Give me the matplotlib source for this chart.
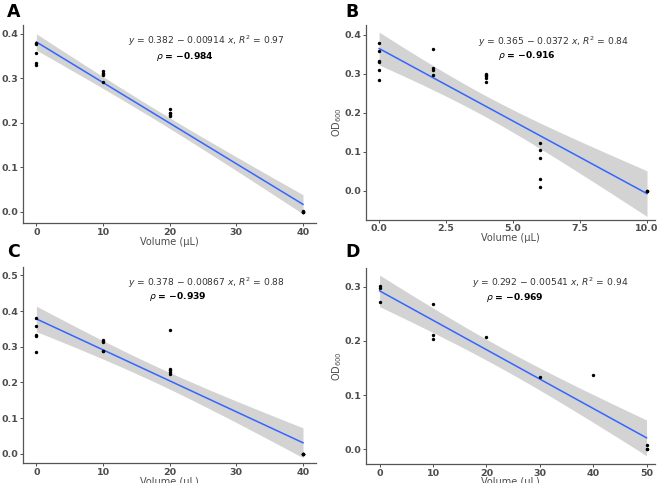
import numpy as np
import matplotlib
matplotlib.use('Agg')
import matplotlib.pyplot as plt

# panel A (replicates at 40 sit on top of each other)
a_x = [0, 0, 0, 0, 0, 10, 10, 10, 10, 10, 20, 20, 20, 20, 20, 40, 40, 40, 40, 40]
a_y = [0.380, 0.378, 0.358, 0.334, 0.330, 0.317, 0.313, 0.310, 0.308, 0.293,
       0.232, 0.222, 0.221, 0.218, 0.215, 0.0, 0.001, 0.0, 0.0, 0.0]
a_fit = (0.382, -0.00914)
a_eq = r'$y$ = 0.382 − 0.00914 $x$, $R^2$ = 0.97'
a_rho = r'$\rho$ = −0.984'

# panel B
b_x = [0, 0, 0, 0, 0, 0, 2, 2, 2, 2, 4, 4, 4, 4, 4, 6, 6, 6, 6, 6, 10, 10, 10]
b_y = [0.380, 0.359, 0.333, 0.330, 0.310, 0.285, 0.365, 0.315, 0.309, 0.297,
       0.300, 0.297, 0.295, 0.289, 0.279, 0.122, 0.106, 0.084, 0.031, 0.011,
       0.0, 0.001, 0.0]
b_fit = (0.365, -0.0372)
b_eq = r'$y$ = 0.365 − 0.0372 $x$, $R^2$ = 0.84'
b_rho = r'$\rho$ = −0.916'

# panel C
c_x = [0, 0, 0, 0, 0, 10, 10, 10, 10, 10, 20, 20, 20, 20, 20, 40, 40, 40, 40, 40]
c_y = [0.380, 0.358, 0.332, 0.329, 0.285, 0.318, 0.315, 0.312, 0.287, 0.287,
       0.346, 0.238, 0.234, 0.229, 0.224, 0.0, 0.0, 0.0, 0.0, 0.0]
c_fit = (0.378, -0.00867)
c_eq = r'$y$ = 0.378 − 0.00867 $x$, $R^2$ = 0.88'
c_rho = r'$\rho$ = −0.939'

# panel D
d_x = [0, 0, 0, 10, 10, 10, 20, 30, 40, 50, 50, 50]
d_y = [0.301, 0.298, 0.272, 0.267, 0.211, 0.203, 0.207, 0.134, 0.138, 0.008, 0.001, 0.0]
d_fit = (0.292, -0.00541)
d_eq = r'$y$ = 0.292 − 0.00541 $x$, $R^2$ = 0.94'
d_rho = r'$\rho$ = −0.969'

panels = [
    ('A', a_x, a_y, a_fit, a_eq, a_rho, [0.035, 0.538, 0.445, 0.410], (-2, 42), (-0.026, 0.42),
     [0, 10, 20, 30, 40], [0.0, 0.1, 0.2, 0.3, 0.4], '{:.0f}', (0.358, 0.919), (0.454, 0.843),
     -0.072, (0.011, 0.965)),
    ('B', b_x, b_y, b_fit, b_eq, b_rho, [0.555, 0.545, 0.439, 0.403], (-0.5, 10.3), (-0.074, 0.425),
     [0, 2.5, 5, 7.5, 10], [0.0, 0.1, 0.2, 0.3, 0.4], '{:.1f}', (0.388, 0.916), (0.457, 0.843),
     -0.075, (0.524, 0.965)),
    ('C', c_x, c_y, c_fit, c_eq, c_rho, [0.035, 0.041, 0.445, 0.406], (-2, 42), (-0.026, 0.523),
     [0, 10, 20, 30, 40], [0.0, 0.1, 0.2, 0.3, 0.4, 0.5], '{:.0f}', (0.358, 0.918), (0.430, 0.852),
     -0.072, (0.011, 0.468)),
    ('D', d_x, d_y, d_fit, d_eq, d_rho, [0.555, 0.039, 0.439, 0.406], (-2.6, 51.6), (-0.027, 0.334),
     [0, 10, 20, 30, 40, 50], [0.0, 0.1, 0.2, 0.3], '{:.0f}', (0.367, 0.923), (0.415, 0.852),
     -0.075, (0.524, 0.468)),
]

# two-sided 95% t quantiles by degrees of freedom
t_vals = {9: 2.262, 10: 2.228, 11: 2.201, 12: 2.179, 13: 2.160, 14: 2.145, 15: 2.131,
          16: 2.120, 17: 2.110, 18: 2.101, 19: 2.093, 20: 2.086, 21: 2.080, 22: 2.074}

fig = plt.figure(figsize=(6.59, 4.83), dpi=100)
grey = '#4D4D4D'

for letter, xs, ys, fit, eq, rho, rect, xl, yl, xt, yt, xfmt, p1, p2, ylx, lpos in panels:
    ax = fig.add_axes(rect)
    x = np.array(xs, dtype=float)
    y = np.array(ys, dtype=float)
    b0, b1 = fit
    n = len(x)
    resid = y - (b0 + b1 * x)
    s = np.sqrt(np.sum(resid ** 2) / (n - 2))
    xx = np.linspace(x.min(), x.max(), 80)
    yy = b0 + b1 * xx
    se = s * np.sqrt(1 / n + (xx - x.mean()) ** 2 / np.sum((x - x.mean()) ** 2))
    t = t_vals.get(n - 2, 2.1)
    ax.fill_between(xx, yy - t * se, yy + t * se, color='#D3D3D3', lw=0, zorder=1)
    ax.plot(xx, yy, color='#3366FF', lw=1.1, zorder=2)
    ax.scatter(x, y, s=6, color='black', zorder=3, lw=0)

    ax.set_xlim(*xl)
    ax.set_ylim(*yl)
    ax.set_xticks(xt)
    ax.set_xticklabels([xfmt.format(v) for v in xt])
    ax.set_yticks(yt)
    ax.set_yticklabels(['{:.1f}'.format(v) for v in yt])
    for sp in ['top', 'right']:
        ax.spines[sp].set_visible(False)
    for sp in ['left', 'bottom']:
        ax.spines[sp].set_color('#555555')
        ax.spines[sp].set_linewidth(0.9)
    ax.tick_params(colors=grey, labelsize=6.8, length=2, width=0.7, pad=1.2)
    for lab in ax.get_xticklabels() + ax.get_yticklabels():
        lab.set_fontweight('bold')

    ax.set_xlabel('Volume (µL)', fontsize=7, color=grey)
    ax.xaxis.set_label_coords(0.5, -0.068)
    ax.set_ylabel(r'OD$_{600}$', fontsize=7, color=grey)
    ax.yaxis.set_label_coords(ylx, 0.5)

    ax.text(p1[0], p1[1], eq, transform=ax.transAxes, fontsize=6.6, color='#333333',
            ha='left', va='center')
    ax.text(p2[0], p2[1], rho, transform=ax.transAxes, fontsize=6.6, color='black',
            fontweight='bold', ha='left', va='center')

    fig.text(lpos[0], lpos[1], letter, fontsize=12.5, fontweight='bold',
             ha='left', va='baseline')

plt.savefig('out.png', dpi=100)
